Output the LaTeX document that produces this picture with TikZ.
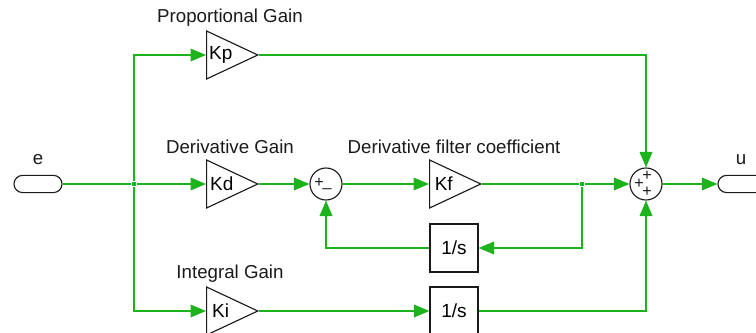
\documentclass[tikz,border=0pt]{standalone}
\usepackage{fontspec}
\setmainfont{Liberation Sans}
\usetikzlibrary{arrows.meta,positioning,shapes.geometric,shapes.misc}
\definecolor{wire}{HTML}{1DB31D}
\definecolor{ink}{HTML}{1A1A1A}

\begin{document}
\begin{tikzpicture}[x=0.025cm, y=-0.025cm,
  gain/.style={draw=ink, thick, isosceles triangle, isosceles triangle stretches,
               minimum width=1.2cm, minimum height=1.28cm, inner sep=1pt,
               font=\fontsize{13.5}{15}\selectfont, anchor=lower side},
  intbox/.style={draw=ink, thick, fill=white, minimum width=1.2cm, minimum height=1.2cm,
                 font=\fontsize{13.5}{15}\selectfont, inner sep=0pt},
  sumnode/.style={draw=ink, thick, circle, minimum size=0.8cm, inner sep=0pt},
  port/.style={draw=ink, thick, rounded rectangle, minimum width=1.2cm,
               minimum height=0.43cm, inner sep=0pt},
  lbl/.style={font=\fontsize{13.3}{15}\selectfont, text=ink},
  sgn/.style={font=\fontsize{11.5}{12}\selectfont, text=ink, inner sep=0pt},
  dot/.style={fill=wire, minimum size=3.5pt, inner sep=0pt},
  arr/.style={-{Triangle[length=11pt, width=9pt]}, wire, line width=1pt},
  ln/.style={wire, line width=1pt}
]
  \clip (0,0) rectangle (756,333);

  % ports
  \node[port] (e) at (38,184) {};
  \node[lbl] at (38,160) {e};
  \node[port] (u) at (742,184) {};
  \node[lbl] at (741,160) {u};

  % gains
  \node[gain] (kp) at (206,55) {Kp};
  \node[gain] (kd) at (206,184) {Kd};
  \node[gain] (kf) at (429,184) {Kf};
  \node[gain] (ki) at (206,311) {Ki};
  \node[lbl] at (230,18) {Proportional Gain};
  \node[lbl] at (230,147) {Derivative Gain};
  \node[lbl] at (454,147) {Derivative filter coefficient};
  \node[lbl] at (230,274) {Integral Gain};

  % sums
  \node[sumnode] (sa) at (326,184) {};
  \node[sgn] at (319,183) {+};
  \node[sgn] at (327,188) {\_};
  \node[sumnode] (sb) at (646,184) {};
  \node[sgn] at (647,176) {+};
  \node[sgn] at (639,184) {+};
  \node[sgn] at (647,192) {+};

  % integrators
  \node[intbox] (ia) at (454,248) {1/s};
  \node[intbox] (ib) at (454,311) {1/s};

  % junctions
  \node[dot] (ja) at (134,184) {};
  \node[dot] (jb) at (582,184) {};

  \draw[ln] (e.east) -- (ja);
  \draw[arr] (ja) |- (kp.lower side);
  \draw[arr] (ja) -- (kd.lower side);
  \draw[arr] (ja) |- (ki.lower side);
  \draw[arr] (kp.apex) -| (sb.north);
  \draw[arr] (kd.apex) -- (sa.west);
  \draw[arr] (sa.east) -- (kf.lower side);
  \draw[ln] (kf.apex) -- (jb);
  \draw[arr] (jb) -- (sb.west);
  \draw[arr] (jb) |- (ia.east);
  \draw[arr] (ia.west) -| (sa.south);
  \draw[arr] (ki.apex) -- (ib.west);
  \draw[arr] (ib.east) -| (sb.south);
  \draw[arr] (sb.east) -- (u.west);

\end{tikzpicture}
\end{document}
